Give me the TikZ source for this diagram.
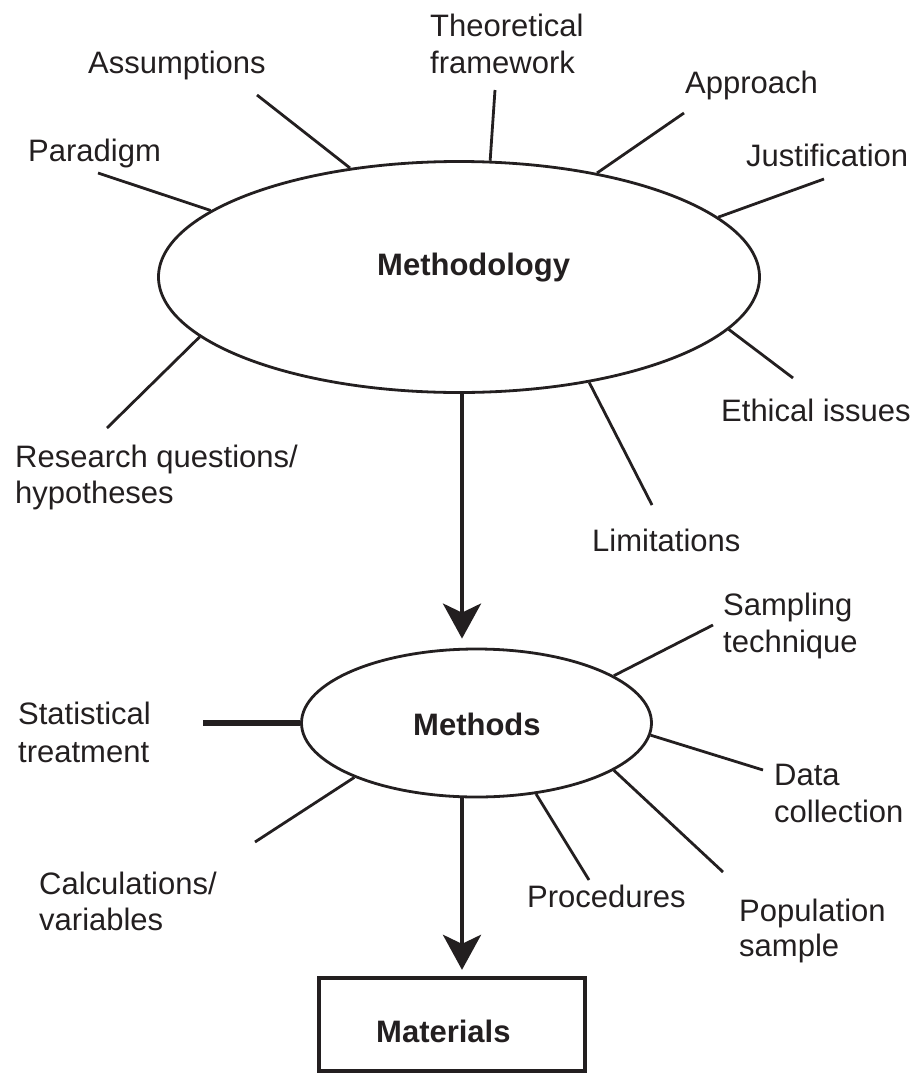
\documentclass[tikz,border=0pt]{standalone}
\usepackage{fontspec}
\setmainfont{Liberation Sans}
\usepackage{tikz}
\usetikzlibrary{arrows.meta, shapes.geometric}
\definecolor{ink}{HTML}{231F20}

\begin{document}
\begin{tikzpicture}[
		x=1pt, y=-1pt,
		lbl/.style={inner sep=0pt, align=left, anchor=base west, text=ink, font=\fontsize{31}{37}\selectfont},
		boldlbl/.style={lbl, font=\fontsize{31}{37}\selectfont\bfseries},
		bubble/.style={ellipse, draw=ink, line width=2.8pt, inner sep=0pt},
		spoke/.style={draw=ink, line width=2.8pt},
		flow/.style={draw=ink, line width=4.5pt, -{Stealth[length=35pt, width=38pt, inset=9pt]}},
	]
		\useasboundingbox (0,0) rectangle (916,1074);

		%Nodes
		\node (mtdgy) [bubble, minimum width=601pt, minimum height=231pt] at (459,277) {};
		\node (mthds) [bubble, minimum width=350pt, minimum height=148pt] at (476.5,723) {};
		\node (mats) [draw=ink, line width=4.5pt, minimum width=266pt, minimum height=93pt] at (452,1024.6) {};
		\coordinate (axis) at (462,0);

		\node (mtdgytext) [boldlbl] at (377,275) {Methodology};
		\node (mthdstext) [boldlbl] at (413,735) {Methods};
		\node (matstext) [boldlbl] at (376,1042) {Materials};

		% multi-line labels sit on the baseline of their last line
		\node (paradigm) [lbl] at (28,161) {Paradigm};
		\node (assump) [lbl] at (88,73) {Assumptions};
		\node (theory) [lbl] at (430,73) {Theoretical\\framework};
		\node (approach) [lbl] at (685,93) {Approach};
		\node (justif) [lbl] at (746,166) {Justification};
		\node (ethics) [lbl] at (721,421) {Ethical issues};
		\node (limits) [lbl] at (592,551) {Limitations};
		\node (research) [lbl, font=\fontsize{31}{36}\selectfont] at (15,503) {Research questions/\\hypotheses};

		\node (stats) [lbl, font=\fontsize{31}{38}\selectfont] at (18,762) {Statistical\\treatment};
		\node (sampling) [lbl] at (723,652) {Sampling\\technique};
		\node (datacoll) [lbl] at (774,822) {Data\\collection};
		\node (procs) [lbl] at (527,907) {Procedures};
		\node (popul) [lbl, font=\fontsize{31}{35}\selectfont] at (739,956) {Population\\sample};
		\node (calcs) [lbl, font=\fontsize{31}{36}\selectfont] at (39,930) {Calculations/\\variables};

		%Free ends of the spokes
		\coordinate (endparadigm) at (98,173);
		\coordinate (endassump) at (257,95);
		\coordinate (endtheory) at (495,90);
		\coordinate (endapproach) at (684,113);
		\coordinate (endjustif) at (824,179);
		\coordinate (endethics) at (793,378);
		\coordinate (endlimits) at (652,505);
		\coordinate (endresearch) at (107,428);

		\coordinate (endsampling) at (713,625);
		\coordinate (enddatacoll) at (763,770);
		\coordinate (endpopul) at (723,872);
		\coordinate (endprocs) at (589,880);
		\coordinate (endcalcs) at (255,842);
		\coordinate (endstats) at (203,723);

		%Lines
		\draw[spoke] (mtdgy.165.5) -- (endparadigm);
		\draw[spoke] (mtdgy.135.5) -- (endassump);
		\draw[spoke] (mtdgy.75.6) -- (endtheory);
		\draw[spoke] (mtdgy.37.5) -- (endapproach);
		\draw[spoke] (mtdgy.13.6) -- (endjustif);
		\draw[spoke] (mtdgy.-11.9) -- (endethics);
		\draw[spoke] (mtdgy.-39) -- (endlimits);
		\draw[spoke] (mtdgy.193.6) -- (endresearch);

		\draw[spoke] (mthds.19.9) -- (endsampling);
		\draw[spoke] (mthds.-4.9) -- (enddatacoll);
		\draw[spoke] (mthds.-19.7) -- (endpopul);
		\draw[spoke] (mthds.-50.4) -- (endprocs);
		\draw[spoke] (mthds.204.4) -- (endcalcs);
		\draw[spoke, line width=6pt] (mthds.west) -- (endstats);

		\draw[flow, shorten >=9pt] (mtdgy.south -| axis) -- (mthds.north -| axis);
		\draw[flow, shorten >=6pt] (mthds.south -| axis) -- (mats.north -| axis);
	\end{tikzpicture}
\end{document}
